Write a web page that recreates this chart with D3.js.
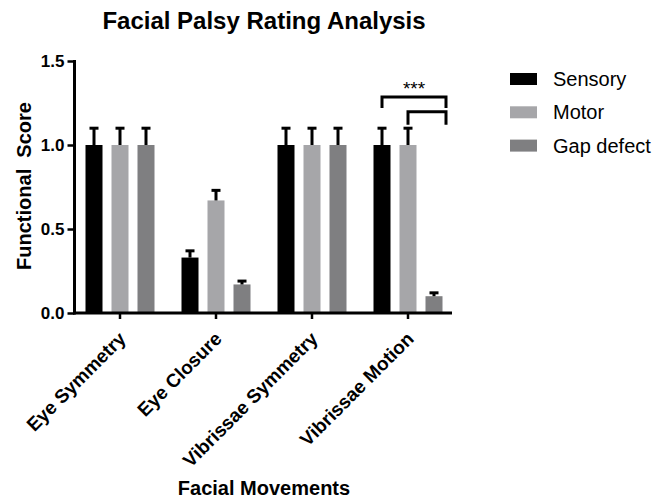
<!DOCTYPE html>
<html>
<head>
<meta charset="utf-8">
<script src="https://cdn.jsdelivr.net/npm/d3@7"></script>
<style>
  html, body { margin: 0; padding: 0; background: #fff; }
  svg { display: block; font-family: "Liberation Sans", Arial, Helvetica, sans-serif; }
</style>
</head>
<body>
<svg id="chart" width="654" height="500"></svg>
<script>
// Facial palsy functional scores per movement and group (mean ± error)
const categories = ["Eye Symmetry", "Eye Closure", "Vibrissae Symmetry", "Vibrissae Motion"];
const seriesNames = ["Sensory", "Motor", "Gap defect"];
const sensoryValues = [1.0, 0.33, 1.0, 1.0];
const motorValues   = [1.0, 0.67, 1.0, 1.0];
const gapValues     = [1.0, 0.17, 1.0, 0.10];
const sensoryErrors = [0.1, 0.04, 0.1, 0.1];
const motorErrors   = [0.1, 0.06, 0.1, 0.1];
const gapErrors     = [0.1, 0.02, 0.1, 0.02];
const yTicks = [0, 0.5, 1.0, 1.5];
const seriesColors = ["#000000", "#a6a6a9", "#7f7f81"];

// Significance annotations on "Vibrissae Motion": [from series, to series, bracket top, leg bottom]
const sigCategory = "Vibrissae Motion";
const sigBrackets = [
  ["Sensory", "Gap defect", 1.286, 1.22],
  ["Motor", "Gap defect", 1.198, 1.12]
];
const sigLabel = "***";
const sigLabelValue = 1.30;

const values = [sensoryValues, motorValues, gapValues];
const errors = [sensoryErrors, motorErrors, gapErrors];
const rows = [];
categories.forEach((c, i) => {
  seriesNames.forEach((s, j) => {
    rows.push({ category: c, series: s, value: values[j][i], err: errors[j][i], color: seriesColors[j] });
  });
});

const svg = d3.select("#chart");
const axisLeftX = 74.5;
const axisRightX = 452;

const x = d3.scaleBand().domain(categories).range([72, 456]).padding(0);
const xInner = d3.scaleBand().domain(seriesNames).range([9, 87])
  .paddingInner(9 / 26).paddingOuter(4.5 / 26);
const y = d3.scaleLinear().domain([0, 1.5]).range([313, 61]);

const font = "Liberation Sans, Arial, Helvetica, sans-serif";

// Title
svg.append("text")
  .attr("x", 264).attr("y", 29)
  .attr("text-anchor", "middle")
  .attr("font-size", 24).attr("font-weight", "bold")
  .text("Facial Palsy Rating Analysis");

// Bars
svg.append("g").selectAll("rect")
  .data(rows).join("rect")
  .attr("x", d => x(d.category) + xInner(d.series))
  .attr("width", xInner.bandwidth())
  .attr("y", d => y(d.value))
  .attr("height", d => y(0) - y(d.value))
  .attr("fill", d => d.color);

// Error bars (upper only)
const capHalf = 4.5;
const eb = svg.append("g").attr("stroke", "#000").attr("stroke-width", 3).attr("fill", "none");
rows.forEach(d => {
  const cx = x(d.category) + xInner(d.series) + xInner.bandwidth() / 2;
  eb.append("line")
    .attr("x1", cx).attr("x2", cx)
    .attr("y1", y(d.value)).attr("y2", y(d.value + d.err));
  eb.append("line")
    .attr("x1", cx - capHalf).attr("x2", cx + capHalf)
    .attr("y1", y(d.value + d.err)).attr("y2", y(d.value + d.err));
});

// Y axis
const yAxis = d3.axisLeft(y).tickValues(yTicks).tickFormat(d3.format(".1f")).tickSize(7).tickPadding(3);
const gy = svg.append("g").attr("transform", `translate(${axisLeftX},0)`).call(yAxis);
gy.select(".domain").remove();
gy.selectAll(".tick line").attr("stroke", "#000").attr("stroke-width", 2.5);
gy.selectAll(".tick text")
  .attr("font-family", font).attr("font-size", 17).attr("font-weight", "bold").attr("fill", "#000");
svg.append("line")
  .attr("x1", axisLeftX).attr("x2", axisLeftX)
  .attr("y1", y(1.5) - 1).attr("y2", y(0) + 1.5)
  .attr("stroke", "#000").attr("stroke-width", 3);

// X axis
const xAxis = d3.axisBottom(x).tickSize(6).tickFormat("");
const gx = svg.append("g").attr("transform", `translate(0,${y(0)})`).call(xAxis);
gx.select(".domain").remove();
gx.selectAll(".tick line").attr("stroke", "#000").attr("stroke-width", 2.5);
svg.append("line")
  .attr("x1", axisLeftX - 1.5).attr("x2", axisRightX)
  .attr("y1", y(0)).attr("y2", y(0))
  .attr("stroke", "#000").attr("stroke-width", 3);

// Rotated category labels
svg.append("g").selectAll("text")
  .data(categories).join("text")
  .attr("transform", d => `translate(${x(d) + x.bandwidth() / 2 + 7},${y(0) + 27}) rotate(-45)`)
  .attr("text-anchor", "end")
  .attr("font-size", 19).attr("font-weight", "bold")
  .text(d => d);

// Axis titles
svg.append("text")
  .attr("transform", `translate(31,186) rotate(-90)`)
  .attr("text-anchor", "middle")
  .attr("font-size", 20).attr("font-weight", "bold")
  .attr("xml:space", "preserve")
  .style("white-space", "pre")
  .text("Functional  Score");

svg.append("text")
  .attr("x", 264).attr("y", 495)
  .attr("text-anchor", "middle")
  .attr("font-size", 20).attr("font-weight", "bold")
  .text("Facial Movements");

// Significance brackets
const sigGroup = svg.append("g").attr("stroke", "#000").attr("stroke-width", 3).attr("fill", "none");
const barCenter = s => x(sigCategory) + xInner(s) + xInner.bandwidth() / 2;
sigBrackets.forEach(([from, to, top, legBottom]) => {
  const x1 = barCenter(from);
  const x2 = barCenter(to) + 12;
  sigGroup.append("path")
    .attr("d", `M${x1},${y(legBottom)}V${y(top)}H${x2}V${y(legBottom)}`);
});
svg.append("text")
  .attr("x", (barCenter("Sensory") + barCenter("Gap defect") + 12) / 2)
  .attr("y", y(sigLabelValue))
  .attr("text-anchor", "middle")
  .attr("font-size", 19)
  .text(sigLabel);

// Legend
const legend = svg.append("g").attr("transform", "translate(510,73)");
seriesNames.forEach((s, i) => {
  const g = legend.append("g").attr("transform", `translate(0,${i * 33.3})`);
  g.append("rect").attr("width", 27).attr("height", 12).attr("fill", seriesColors[i]);
  g.append("text").attr("x", 43).attr("y", 13)
    .attr("font-size", 20).attr("fill", "#000")
    .text(s);
});
</script>
</body>
</html>
